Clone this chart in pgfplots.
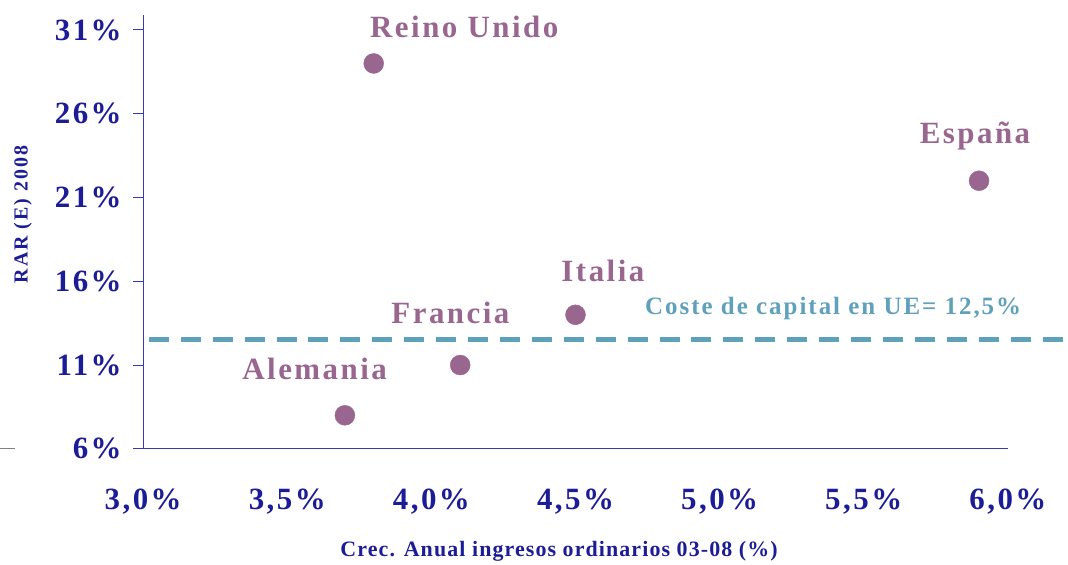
\documentclass[border=0pt]{standalone}
\usepackage{fontspec}
\setmainfont{Liberation Serif}
\newfontfamily\wide[LetterSpace=8]{Liberation Serif}
\newfontfamily\semiwide[LetterSpace=5]{Liberation Serif}
\newfontfamily\ywide[LetterSpace=10]{Liberation Serif}
\usepackage{pgfplots}
\pgfplotsset{compat=1.18}
\usetikzlibrary{calc}
\definecolor{tickblue}{HTML}{1C1C96}
\definecolor{axblue}{HTML}{3A3AB0}
\definecolor{ptpurple}{HTML}{996690}
\definecolor{costteal}{HTML}{5FA0BA}

\begin{document}
\begin{tikzpicture}
\begin{axis}[
    name=ax,
    scale only axis,
    width=867pt, height=435pt,
    xmin=3, xmax=6, ymin=6, ymax=31.893,
    axis lines=left,
    axis line style={-, axblue, line width=1pt},
    clip=false,
    xtick={3,3.5,4,4.5,5,5.5,6},
    xticklabels={3{,}0\%,3{,}5\%,4{,}0\%,4{,}5\%,5{,}0\%,5{,}5\%,6{,}0\%},
    ytick={6,11,16,21,26,31},
    yticklabels={6\%,11\%,16\%,21\%,26\%,31\%},
    x tick style={draw=none},
    y tick style={axblue, line width=1pt},
    tick align=outside,
    major tick length=10pt,
    /pgf/number format/assume math mode=true,
    ticklabel style={text=tickblue, font=\wide\fontsize{31}{33}\selectfont\bfseries},
    xticklabel style={yshift=-27pt},
    yticklabel style={xshift=-8pt},
    xlabel={Crec. Anual ingresos ordinarios 03-08 (\%)},
    ylabel={RAR (E) 2008},
    xlabel style={at={(axis description cs:0.481,-0.236)}, anchor=center,
        text=tickblue, font=\semiwide\fontsize{22}{24}\selectfont\bfseries},
    ylabel style={at={(axis description cs:-0.139,0.54)}, anchor=center, rotate=0,
        text=tickblue, font=\ywide\fontsize{20}{22}\selectfont\bfseries},
]
% Coste de capital
\addplot[costteal, line width=5pt, dash pattern=on 20pt off 12pt] coordinates {(3.02,12.5) (6.2,12.5)};
% Paises
\addplot[only marks, mark=*, mark size=10pt, ptpurple, mark options={fill=ptpurple, draw=ptpurple}] coordinates {
    (3.8,29.0)
    (5.9,22.0)
    (4.5,14.0)
    (4.1,11.0)
    (3.7,8.0)
};
\begin{scope}[every node/.style={text=ptpurple, font=\wide\fontsize{31}{33}\selectfont\bfseries, anchor=center}]
\node at (axis cs:4.114,31.18) {Reino Unido};
\node at (axis cs:5.886,24.69) {España};
\node at (axis cs:4.595,16.60) {Italia};
\node at (axis cs:4.066,14.10) {Francia};
\node at (axis cs:3.595,10.76) {Alemania};
\end{scope}
\node[text=costteal, font=\wide\fontsize{25}{27}\selectfont\bfseries, anchor=center] at (axis cs:5.394,14.39) {Coste de capital en UE= 12,5\%};
\end{axis}
\draw[gray, line width=1pt] ($(ax.south west)+(-143pt,0)$) -- ++(15pt,0);
\useasboundingbox ($(ax.south west)+(-143pt,-113pt)$) rectangle ++(1068pt,563pt);
\end{tikzpicture}
\end{document}
